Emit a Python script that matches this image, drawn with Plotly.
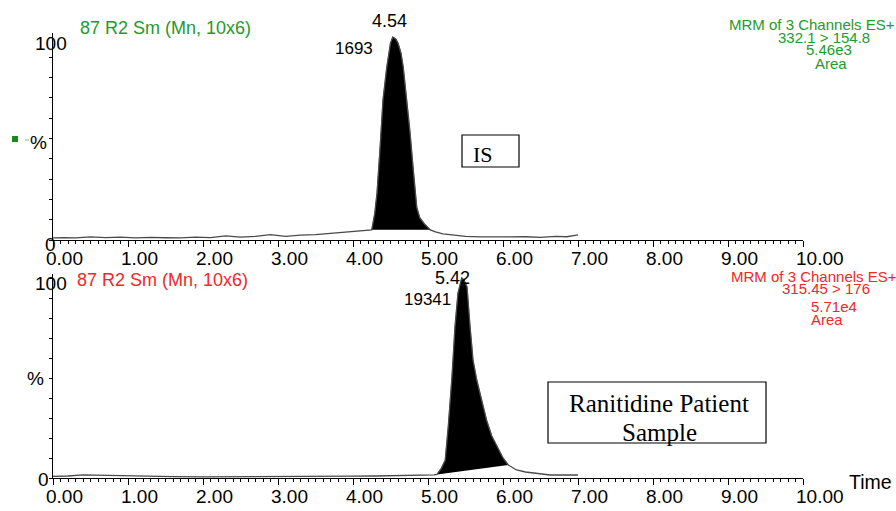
import numpy as np
import plotly.graph_objects as go

W, H = 896, 511

# ---------------- data ----------------
# Internal standard (IS) channel, relative intensity %
t_is = [0.00, 0.15, 0.30, 0.50, 0.70, 0.90, 1.10, 1.30, 1.50, 1.70, 1.90, 2.10, 2.30,
        2.50, 2.70, 2.90, 3.10, 3.30, 3.50, 3.70, 3.85, 4.00, 4.10, 4.20, 4.25, 4.29,
        4.32, 4.36, 4.40, 4.45, 4.50, 4.53, 4.57, 4.60, 4.64, 4.67, 4.72, 4.76, 4.80,
        4.85, 4.89, 4.95, 5.03, 5.10, 5.20, 5.35, 5.50, 5.70, 5.90, 6.10, 6.30, 6.50,
        6.70, 6.85, 7.00]
v_is = [1.0, 1.2, 1.0, 1.5, 1.2, 1.4, 1.0, 1.3, 1.1, 1.0, 1.4, 1.2, 2.0,
        1.4, 1.8, 2.6, 1.8, 2.4, 2.6, 3.2, 3.6, 4.4, 4.6, 4.8, 5.0, 13.0,
        23.0, 44.0, 69.0, 85.0, 97.0, 100.0, 99.0, 97.0, 92.0, 85.0, 69.0, 53.0, 36.0,
        16.0, 11.0, 8.0, 5.0, 4.0, 3.0, 2.4, 1.8, 1.5, 1.6, 1.4, 1.6, 1.3,
        1.8, 1.6, 2.5]
is_peak = (4.25, 5.03)

# Ranitidine patient sample channel, relative intensity %
t_ra = [0.00, 0.20, 0.40, 0.60, 0.80, 1.00, 1.30, 1.60, 2.00, 2.40, 2.80, 3.20, 3.60,
        4.00, 4.30, 4.60, 4.85, 5.00, 5.08, 5.12, 5.18, 5.23, 5.27, 5.32, 5.36, 5.40,
        5.45, 5.48, 5.52, 5.56, 5.60, 5.65, 5.69, 5.78, 5.85, 5.92, 6.00, 6.07, 6.18,
        6.30, 6.40, 6.52, 6.63, 6.75, 6.85, 7.00]
v_ra = [0.8, 1.0, 1.6, 1.4, 1.2, 1.0, 0.8, 0.7, 0.6, 0.6, 0.6, 0.6, 0.7,
        0.9, 1.0, 1.1, 1.3, 1.5, 1.6, 1.8, 5.0, 9.0, 25.6, 50.6, 75.6, 92.5,
        100.0, 99.0, 95.6, 76.0, 59.0, 49.0, 42.5, 29.0, 21.0, 15.6, 10.0, 6.5, 4.0,
        3.0, 2.5, 2.0, 1.5, 1.5, 1.4, 1.5]
ra_peak = (5.12, 6.07)

x_tick_vals = [0, 1, 2, 3, 4, 5, 6, 7, 8, 9, 10]

GREEN = "#249a2a"
RED = "#f02828"
LINE = "#4a4a4a"
FONT = "Arial, Liberation Sans, sans-serif"
SERIF = "Times New Roman, Liberation Serif, serif"


def P(px):
    return px / W


def Q(py):
    return 1 - py / H


def peak_slice(t, v, lim):
    t = np.asarray(t)
    v = np.asarray(v)
    m = (t >= lim[0]) & (t <= lim[1])
    return t[m], v[m]


fig = go.Figure()

# filled integrated peaks
ft, fv = peak_slice(t_is, v_is, is_peak)
fig.add_trace(go.Scatter(x=ft, y=fv, fill="toself", fillcolor="black", mode="lines",
                         line=dict(width=0.5, color="black"), xaxis="x", yaxis="y",
                         hoverinfo="skip", showlegend=False))
ft, fv = peak_slice(t_ra, v_ra, ra_peak)
fig.add_trace(go.Scatter(x=ft, y=fv, fill="toself", fillcolor="black", mode="lines",
                         line=dict(width=0.5, color="black"), xaxis="x2", yaxis="y2",
                         hoverinfo="skip", showlegend=False))

# chromatogram traces
fig.add_trace(go.Scatter(x=t_is, y=v_is, mode="lines", line=dict(color=LINE, width=1.3),
                         xaxis="x", yaxis="y", showlegend=False))
fig.add_trace(go.Scatter(x=t_ra, y=v_ra, mode="lines", line=dict(color=LINE, width=1.3),
                         xaxis="x2", yaxis="y2", showlegend=False))

xdom = [P(53), P(803)]
top_dom = [Q(240), Q(240 - 102 * 2.03)]
bot_dom = [Q(478), Q(478 - 102 * 2.0)]


def xaxis_cfg(anchor):
    return dict(domain=xdom, range=[0, 10], anchor=anchor, showline=True, linecolor="black",
                linewidth=1, ticks="outside", ticklen=6, tickwidth=1, tickcolor="black",
                tickvals=x_tick_vals, tickformat=".2f", showgrid=False, zeroline=False,
                automargin=False,
                tickfont=dict(family=FONT, size=19, color="black"),
                ticklabelposition="outside right", ticklabelshift=-8, ticklabelstandoff=1,
                minor=dict(dtick=0.1, ticks="outside", ticklen=3, tickwidth=1,
                           tickcolor="black", showgrid=False),
                fixedrange=True)


def yaxis_cfg(anchor, dom):
    return dict(domain=dom, range=[0, 102], anchor=anchor, showline=True, linecolor="black",
                linewidth=1, ticks="outside", ticklen=3, tickwidth=1, tickcolor="black",
                tick0=0, dtick=10, showticklabels=False, showgrid=False, zeroline=False,
                automargin=False, fixedrange=True)


fig.update_layout(
    template="none",
    width=W, height=H, margin=dict(l=0, r=0, t=0, b=0, pad=0, autoexpand=False),
    paper_bgcolor="white", plot_bgcolor="white",
    xaxis=xaxis_cfg("y"), yaxis=yaxis_cfg("x", top_dom),
    xaxis2=xaxis_cfg("y2"), yaxis2=yaxis_cfg("x2", bot_dom),
    showlegend=False,
)

ann = []


def A(text, px, py, size, color="black", family=FONT, xanchor="center"):
    ann.append(dict(text=text, x=P(px), y=Q(py), xref="paper", yref="paper",
                    xanchor=xanchor, yanchor="middle", showarrow=False,
                    font=dict(family=family, size=size, color=color)))


# top panel
A("87 R2 Sm (Mn, 10x6)", 78, 28, 18, GREEN, xanchor="left")
A("100", 51, 43, 19)
A("0", 50, 245, 19)
A("%", 38, 142, 19)
A("4.54", 389.5, 21, 18)
A("1693", 354, 49, 17)
A("IS", 483, 154, 22, family=SERIF)
A("MRM of 3 Channels ES+", 812, 25, 15, GREEN)
A("332.1 > 154.8", 824, 37.5, 15, GREEN)
A("5.46e3", 829, 49.5, 15, GREEN)
A("Area", 831, 63, 15, GREEN)

# bottom panel
A("87 R2 Sm (Mn, 10x6)", 75, 280, 18, RED, xanchor="left")
A("100", 51, 283, 19)
A("0", 43, 479, 19)
A("%", 35, 378, 19)
A("5.42", 452.5, 278, 18)
A("19341", 427.5, 299.5, 17)
A("Ranitidine Patient", 659, 403, 25, family=SERIF)
A("Sample", 659, 432, 25, family=SERIF)
A("MRM of 3 Channels ES+", 814, 276, 15, RED)
A("315.45 > 176", 826, 288, 15, RED)
A("5.71e4", 809, 306, 15, RED, xanchor="left")
A("Area", 809, 319.5, 15, RED, xanchor="left")
A("Time", 870, 482, 19.5)

fig.update_layout(annotations=ann)

shapes = [
    dict(type="rect", xref="paper", yref="paper", x0=P(462), x1=P(519), y0=Q(167), y1=Q(135),
         line=dict(color="black", width=1.2), fillcolor="rgba(0,0,0,0)"),
    dict(type="rect", xref="paper", yref="paper", x0=P(548), x1=P(766), y0=Q(443), y1=Q(382),
         line=dict(color="black", width=1.2), fillcolor="rgba(0,0,0,0)"),
    dict(type="rect", xref="paper", yref="paper", x0=P(12), x1=P(18), y0=Q(142), y1=Q(136),
         line=dict(width=0), fillcolor="#1a8a1a"),
    dict(type="line", xref="paper", yref="paper", x0=P(25), x1=P(29), y0=Q(140), y1=Q(140),
         line=dict(color="#7fc27f", width=1)),
]
fig.update_layout(shapes=shapes)

fig.write_html("out.html")
